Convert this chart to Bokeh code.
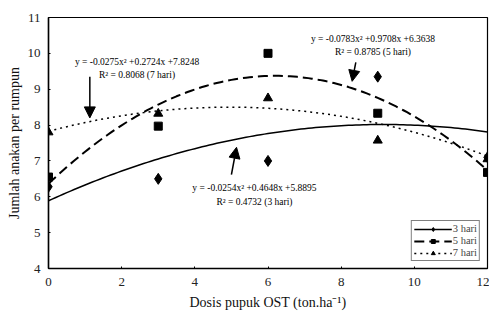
import numpy as np
from bokeh.plotting import figure
from bokeh.models import Range1d, FixedTicker, Label, Arrow, NormalHead, Legend, LegendItem
from bokeh.embed import file_html
from bokeh.resources import INLINE

# data
dosis = [0, 3, 6, 9, 12]
hari3 = [6.28, 6.5, 7.0, 9.35, 7.1]
hari5 = [6.55, 7.97, 10.0, 8.33, 6.68]
hari7 = [7.8, 8.32, 8.75, 7.57, 7.05]
coef3 = [-0.0254, 0.4648, 5.8895]
coef5 = [-0.0783, 0.9708, 6.3638]
coef7 = [-0.0275, 0.2724, 7.8248]
eq3 = ["y = -0.0254x² +0.4648x +5.8895", "R² = 0.4732 (3 hari)"]
eq5 = ["y = -0.0783x² +0.9708x +6.3638", "R² = 0.8785 (5 hari)"]
eq7 = ["y = -0.0275x² +0.2724x +7.8248", "R² = 0.8068 (7 hari)"]
x_ticks = [0, 2, 4, 6, 8, 10, 12]
y_ticks = [4, 5, 6, 7, 8, 9, 10, 11]

FONT = "Liberation Serif"

p = figure(width=489, height=312, output_backend="svg", toolbar_location=None,
           x_range=Range1d(0, 12), y_range=Range1d(4, 11),
           min_border_left=48, min_border_top=17, min_border_right=2, min_border_bottom=44)
p.xgrid.visible = False
p.ygrid.visible = False
p.outline_line_color = "black"
p.outline_line_width = 1.2

for ax in (p.xaxis[0], p.yaxis[0]):
    ax.major_label_text_font = FONT
    ax.axis_label_text_font = FONT
    ax.axis_label_text_font_style = "normal"
    ax.major_label_text_font_size = "13px"
    ax.axis_label_text_font_size = "14px"
    ax.major_tick_out = 0
    ax.major_tick_in = 2
    ax.minor_tick_out = 0
    ax.minor_tick_in = 0
    ax.axis_line_color = "black"
    ax.axis_line_width = 1.5
    ax.major_label_text_color = "#222222"
    ax.axis_label_text_color = "#111111"

p.xaxis.ticker = FixedTicker(ticks=x_ticks)
p.yaxis.ticker = FixedTicker(ticks=y_ticks)
p.xaxis.axis_label = "Dosis pupuk OST (ton.ha⁻¹)"
p.yaxis.axis_label = "Jumlah anakan per rumpun"
p.xaxis.major_label_standoff = 9
p.yaxis.major_label_standoff = 8
p.xaxis.axis_label_standoff = 6
p.yaxis.axis_label_standoff = 3

xs = np.linspace(0, 12, 121)
def curve(c):
    return c[0] * xs ** 2 + c[1] * xs + c[2]

l3 = p.line(xs, curve(coef3), line_color="black", line_width=1.5)
l5 = p.line(xs, curve(coef5), line_color="black", line_width=2, line_dash="10 5")
l7 = p.line(xs, curve(coef7), line_color="black", line_width=1.5, line_dash="2 4")

s3 = p.scatter(dosis, hari3, marker="diamond", size=11, color="black")
s5 = p.scatter(dosis, hari5, marker="square", size=8, color="black")
s7 = p.scatter(dosis, hari7, marker="triangle", size=9, color="black")

legend = Legend(items=[
    LegendItem(label="3 hari", renderers=[l3, s3]),
    LegendItem(label="5 hari", renderers=[l5, s5]),
    LegendItem(label="7 hari", renderers=[l7, s7]),
], location="bottom_right")
legend.label_text_font = FONT
legend.label_text_font_size = "10.5px"
legend.glyph_width = 38
legend.glyph_height = 10
legend.label_standoff = 1
legend.spacing = 1
legend.padding = 2
legend.margin = 7
legend.border_line_color = "black"
legend.border_line_width = 1
legend.label_height = 10
p.add_layout(legend)

def add_eq(lines, x, y1, y2):
    for txt, yy in zip(lines, (y1, y2)):
        p.add_layout(Label(x=x, y=yy, text=txt, text_align="center", text_baseline="middle",
                           text_font=FONT, text_font_size="9.5px", text_color="black"))

add_eq(eq7, 2.42, 9.75, 9.41)
add_eq(eq5, 8.87, 10.39, 10.03)
add_eq(eq3, 5.63, 6.24, 5.85)

def add_arrow(x0, y0, x1, y1):
    p.add_layout(Arrow(x_start=x0, y_start=y0, x_end=x1, y_end=y1, line_width=1.5,
                       end=NormalHead(size=11, fill_color="black", line_color="black")))

add_arrow(1.13, 9.35, 1.13, 8.2)
add_arrow(8.40, 9.75, 8.30, 9.22)
add_arrow(5.0, 6.62, 5.14, 7.38)

open("out.html", "w").write(file_html(p, INLINE))
